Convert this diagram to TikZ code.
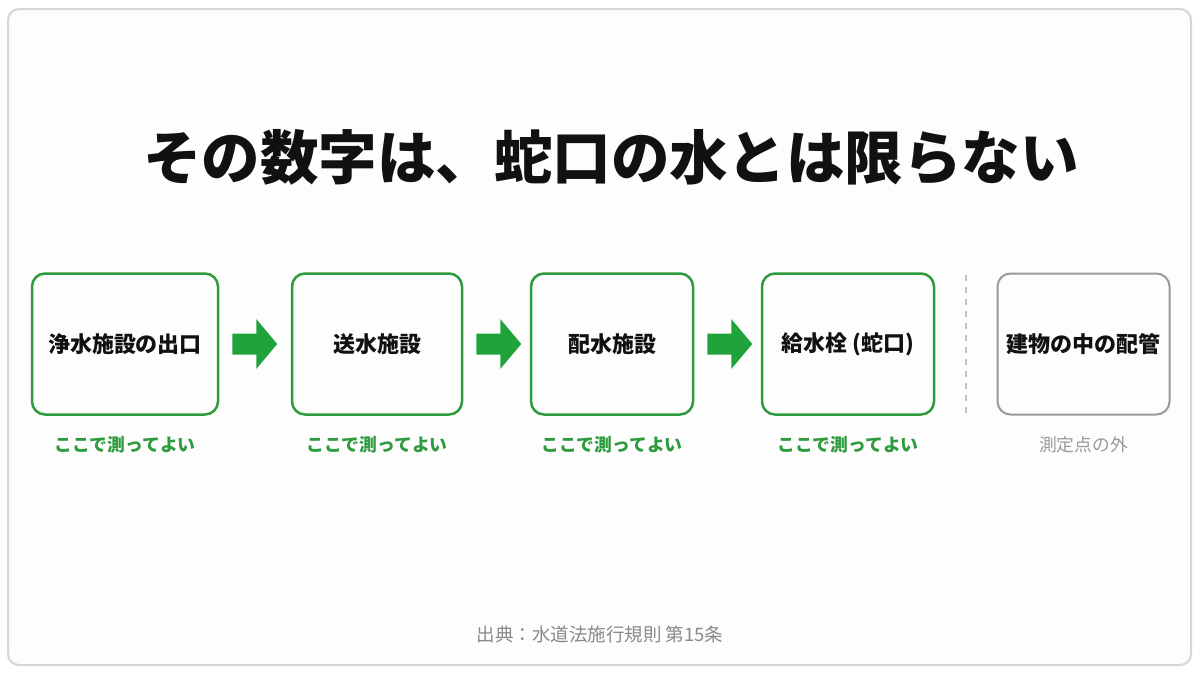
\documentclass[tikz,border=0pt]{standalone}
\usepackage{fontspec}
\setmainfont{Noto Sans CJK JP}
\usetikzlibrary{calc}
\definecolor{okgreen}{HTML}{2E9B3E}
\definecolor{arrgreen}{HTML}{1FA33A}
\definecolor{framegray}{HTML}{D6D6D6}
\definecolor{boxgray}{HTML}{9A9A9A}
\definecolor{labelgray}{HTML}{9A9A9A}
\definecolor{footgray}{HTML}{8A8A8A}
\definecolor{titleblack}{HTML}{111111}
\tikzset{
  okbox/.style={draw=okgreen, line width=2.5pt, rounded corners=13pt, minimum height=141pt, inner sep=0pt, font=\fontsize{22}{26}\selectfont\bfseries, text=titleblack},
  outbox/.style={okbox, draw=boxgray, line width=2pt},
  oklabel/.style={text=okgreen, font=\fontsize{17.8}{21}\selectfont\bfseries},
  outlabel/.style={text=labelgray, font=\fontsize{17.8}{21}\selectfont},
  blockarrow/.style={fill=arrgreen}
}
\begin{document}
\begin{tikzpicture}[x=1pt,y=-1pt]
\useasboundingbox (0,0) rectangle (1200,675);
\fill[white] (0,0) rectangle (1200,675);
\draw[framegray, line width=2pt, rounded corners=11pt, fill=white!99.3!black] (8,9) rectangle (1191,665);
\node[text=titleblack, font=\fontsize{58.5}{64}\selectfont\bfseries] (title) at (611,157) {その数字は、蛇口の水とは限らない};
\node[okbox, minimum width=186pt] (b1) at (125,344) {浄水施設の出口};
\node[okbox, minimum width=170pt] (b2) at (377,344) {送水施設};
\node[okbox, minimum width=162pt] (b3) at (612,344) {配水施設};
\node[okbox, minimum width=172pt] (b4) at (848,344) {給水栓 (蛇口)};
\node[outbox, minimum width=172pt] (b5) at (1083.5,344) {建物の中の配管};
\foreach \a/\b in {b1/b2,b2/b3,b3/b4}{
  \fill[blockarrow] ($(\a.east)+(13,-10.5)$) -- ($(\a.east)+(37,-10.5)$) -- ($(\a.east)+(37,-25)$) -- ($(\a.east)+(58,0)$) -- ($(\a.east)+(37,25)$) -- ($(\a.east)+(37,10.5)$) -- ($(\a.east)+(13,10.5)$) -- cycle;
}
\coordinate (dtop) at (966,275);
\coordinate (dbot) at (966,415);
\draw[boxgray!60, line width=2pt, dash pattern=on 6pt off 6pt] (dtop) -- (dbot);
\node[oklabel] (l1) at (125,445) {ここで測ってよい};
\node[oklabel] (l2) at (377,445) {ここで測ってよい};
\node[oklabel] (l3) at (612,445) {ここで測ってよい};
\node[oklabel] (l4) at (848,445) {ここで測ってよい};
\node[outlabel] (l5) at (1083.5,445) {測定点の外};
\node[text=footgray, font=\fontsize{18.5}{22}\selectfont] (src) at (600,634) {出典：水道法施行規則 第15条};
\end{tikzpicture}
\end{document}
